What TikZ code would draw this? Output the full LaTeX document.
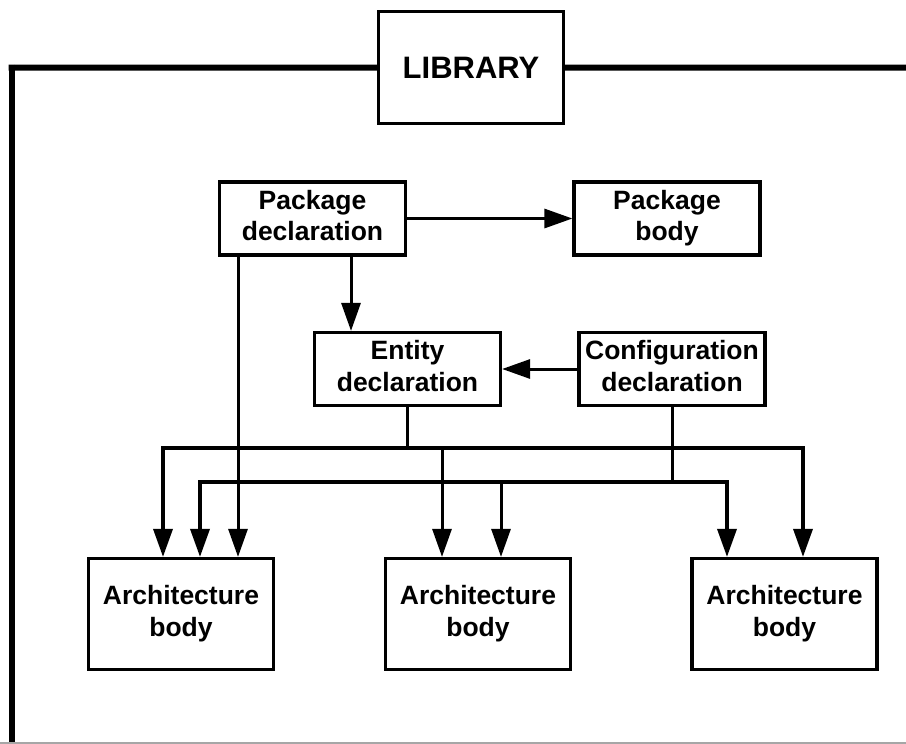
\documentclass[tikz,border=0pt]{standalone}
\usepackage{fontspec}
\setmainfont{Liberation Sans}
\usetikzlibrary{arrows.meta,calc}
\begin{document}
\begin{tikzpicture}[x=1pt,y=-1pt,
  box/.style={draw,line width=3.2pt,align=center,inner sep=0pt,
    font=\bfseries\fontsize{26.5}{31.5}\selectfont},
  smallbox/.style={box,minimum width=186pt,minimum height=73pt},
  archbox/.style={box,minimum width=185pt,minimum height=111pt},
  conn/.style={line width=3pt},
  tip/.style={Triangle[length=28pt,width=19pt]},
  arr/.style={conn,-{Triangle[length=28pt,width=19pt]}},
  arrboth/.style={line width=3.5pt,{Triangle[length=28pt,width=19pt]}-{Triangle[length=28pt,width=19pt]}}]
\useasboundingbox (0,0) rectangle (906,744);
% library box and frame
\node[box,minimum width=185pt,minimum height=112pt,
  font=\bfseries\fontsize{31}{36}\selectfont] (lib) at (471,67.5) {LIBRARY};
\draw[line width=6pt] (lib.west) -- (8.7,67.7);
\draw[line width=6pt] (lib.east) -- (906,67.7);
\draw[line width=6pt] (11.7,64.7) -- (11.7,744);
\draw[line width=1.5pt,gray!70] (0,743) -- (906,743);
% boxes
\node[smallbox] (pd) at (312.5,218.5) {Package\strut\\declaration\strut};
\node[smallbox] (pb) at (667,218.5) {Package\strut\\body\strut};
\node[smallbox] (ed) at (407.5,369) {Entity\strut\\declaration\strut};
\node[smallbox] (cd) at (672,369) {Configuration\strut\\declaration\strut};
\node[archbox] (a1) at (181,614) {Architecture\strut\\body\strut};
\node[archbox] (a2) at (478,614) {Architecture\strut\\body\strut};
\node[archbox] (a3) at (784.5,614) {Architecture\strut\\body\strut};
% coordinates
\coordinate (c1) at (351,0);
\coordinate (c2) at (238,0);
\coordinate (u1) at (163,448);
\coordinate (u2) at (442,448);
\coordinate (u3) at (803,448);
\coordinate (l1) at (200,482);
\coordinate (l2) at (501,482);
\coordinate (l3) at (727,482);
% connectors
\draw[arr] (pd.east) -- (pb.west);
\draw[arr] (pd.south -| c1) -- (ed.north -| c1);
\draw[arr] (cd.west) -- (ed.east);
\draw[arr] (pd.south -| c2) -- (a1.north -| c2);
\draw[conn] (ed.south) -- (ed.south |- u1);
\draw[arrboth] (a1.north -| u1) -- (u1) -- (u3) -- (a3.north -| u3);
\draw[arr] (u2) -- (a2.north -| u2);
\draw[conn] (cd.south) -- (cd.south |- l1);
\draw[arrboth] (a1.north -| l1) -- (l1) -- (l3) -- (a3.north -| l3);
\draw[arr] (l2) -- (a2.north -| l2);
\end{tikzpicture}
\end{document}
